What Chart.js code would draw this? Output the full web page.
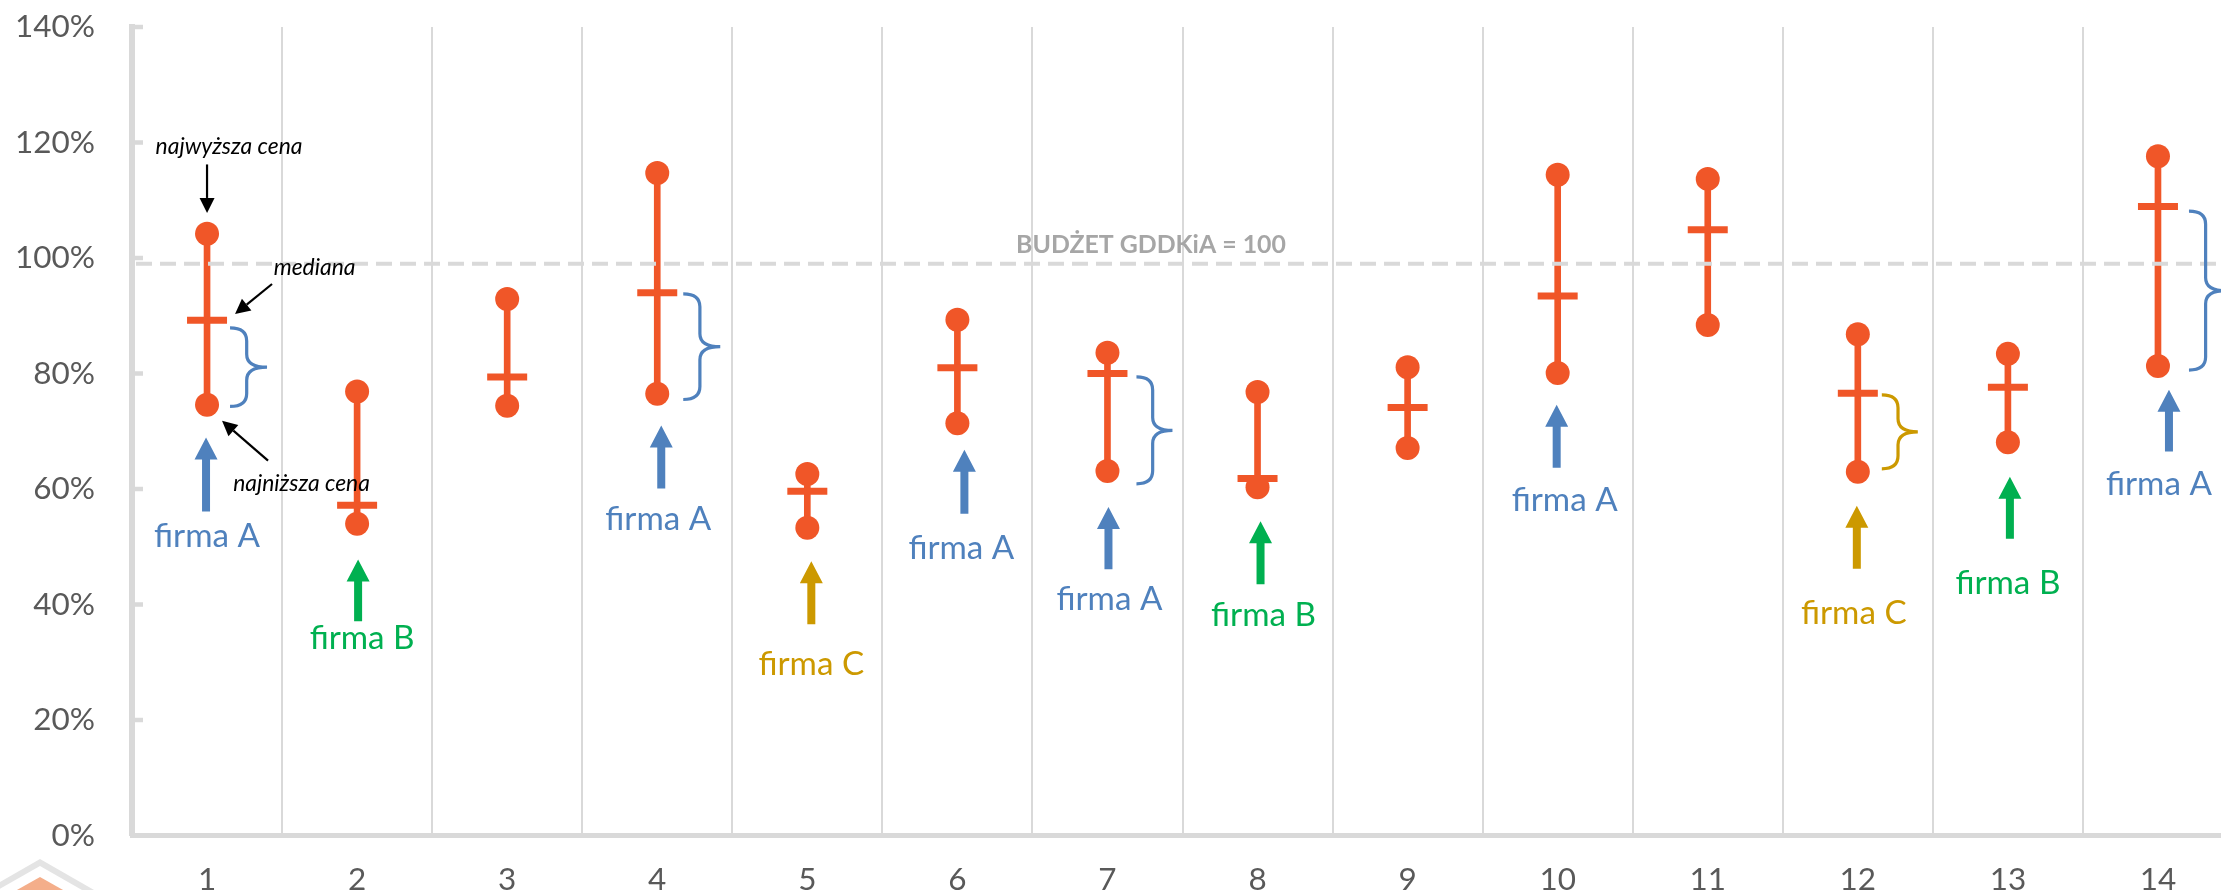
<!DOCTYPE html>
<html><head><meta charset="utf-8">
<script src="https://cdn.jsdelivr.net/npm/chart.js@4.4.1/dist/chart.umd.min.js"></script>
<style>
html,body{margin:0;padding:0;background:#fff;overflow:hidden;width:2221px;height:890px;}
#wrap{position:absolute;left:0;top:0;width:2260px;height:900px;}
</style></head><body>
<div id="wrap"><canvas id="c" width="2260" height="900"></canvas></div>
<script>
// ---------- data ----------
const categories = ['1','2','3','4','5','6','7','8','9','10','11','12','13','14'];
const highPrice   = [104.2, 76.9, 92.9, 114.7, 62.6, 89.3, 83.6, 76.8, 81.1, 114.4, 113.7, 86.8, 83.4, 117.6];
const medianPrice = [ 89.2, 57.2, 79.4,  94.0, 59.6, 81.0, 80.0, 61.8, 74.1,  93.4, 104.9, 76.6, 77.6, 108.9];
const lowPrice    = [ 74.6, 54.0, 74.4,  76.5, 53.3, 71.4, 63.1, 60.3, 67.1,  80.1,  88.4, 63.0, 68.1,  81.3];
const yTicks = [0, 20, 40, 60, 80, 100, 120, 140];
const budgetValue = 99;
const budgetLabel = 'BUDŻET GDDKiA = 100';
const winners = ['firma A','firma B',null,'firma A','firma C','firma A','firma A','firma B',null,'firma A',null,'firma C','firma B','firma A'];
const bracedCategories = [0, 3, 6, 11, 13];
const noteTexts = ['najwyższa cena', 'mediana', 'najniższa cena'];

// ---------- annotation layout (value units on y, px offsets on x) ----------
const arrowLayout = {
  0:{top:68.9,bot:56.1,lab:51.8,dx:-1,ldx:0},
  1:{top:47.8,bot:37.1,lab:34.1,dx:1,ldx:5},
  3:{top:71.0,bot:60.1,lab:54.7,dx:4,ldx:1},
  4:{top:47.5,bot:36.6,lab:29.6,dx:4,ldx:4},
  5:{top:66.8,bot:55.7,lab:49.7,dx:7,ldx:4},
  6:{top:56.9,bot:46.1,lab:40.9,dx:1,ldx:2},
  7:{top:54.4,bot:43.5,lab:38.1,dx:3,ldx:6},
  9:{top:74.6,bot:63.7,lab:58.0,dx:-1,ldx:7},
  11:{top:57.1,bot:46.2,lab:38.5,dx:-1,ldx:-4},
  12:{top:62.1,bot:51.4,lab:43.7,dx:2,ldx:0},
  13:{top:77.2,bot:66.5,lab:60.8,dx:11,ldx:1}
};
const braceLayout = {
  0:{top:87.9,bot:74.3,x0:23,x1:60},
  3:{top:93.8,bot:75.5,x0:26,x1:63},
  6:{top:79.4,bot:60.9,x0:29,x1:65},
  11:{top:76.3,bot:63.5,x0:24,x1:60},
  13:{top:108.1,bot:80.6,x0:31,x1:68}
};
const noteLayout = [
  {dx:22, y:119.3, ax:[0,116.2], at:[0,107.8]},
  {dx:107.5, y:98.3, ax:[65,95.5], at:[28,90.3]},
  {dx:94.5, y:61.0, ax:[61,64.9], at:[15,71.8]}
];

const ORANGE = '#F05628';
const firmColor = {'firma A':'#4F81BD','firma B':'#00B050','firma C':'#CC9900'};
const GRID = '#D9D9D9';
const FONT = 'Lato, "Open Sans", sans-serif';

const mctx = document.createElement('canvas').getContext('2d');
function fitSize(text, width, style){
  mctx.font = style + ' 100px ' + FONT;
  return 100 * width / mctx.measureText(text).width;
}
const tickSize = fitSize('140%', 80, 'normal');
const firmSize = fitSize('firma A', 106, 'normal');
const noteSize = fitSize('najwyższa cena', 147, 'italic');
const budgetSize = fitSize(budgetLabel, 270, 'bold');

function blockArrow(ctx, cx, yT, yB, color){
  const hh = 22, hw = 11.5, sw = 4;
  ctx.fillStyle = color;
  ctx.beginPath();
  ctx.moveTo(cx, yT);
  ctx.lineTo(cx + hw, yT + hh);
  ctx.lineTo(cx + sw, yT + hh);
  ctx.lineTo(cx + sw, yB);
  ctx.lineTo(cx - sw, yB);
  ctx.lineTo(cx - sw, yT + hh);
  ctx.lineTo(cx - hw, yT + hh);
  ctx.closePath();
  ctx.fill();
}
function thinArrow(ctx, x1, y1, x2, y2){
  const ang = Math.atan2(y2 - y1, x2 - x1), hl = 15, hw = 7.5;
  const bx = x2 - Math.cos(ang) * hl, by = y2 - Math.sin(ang) * hl;
  ctx.strokeStyle = '#000'; ctx.fillStyle = '#000'; ctx.lineWidth = 2.2;
  ctx.beginPath(); ctx.moveTo(x1, y1); ctx.lineTo(bx, by); ctx.stroke();
  ctx.beginPath();
  ctx.moveTo(x2, y2);
  ctx.lineTo(bx + Math.sin(ang) * hw, by - Math.cos(ang) * hw);
  ctx.lineTo(bx - Math.sin(ang) * hw, by + Math.cos(ang) * hw);
  ctx.closePath(); ctx.fill();
}
function brace(ctx, x0, x2, yT, yB, color){
  const xs = x0 + (x2 - x0) * 0.45, yM = (yT + yB) / 2;
  const r = Math.min(13, (yB - yT) / 4);
  ctx.strokeStyle = color; ctx.lineWidth = 3.2;
  ctx.beginPath();
  ctx.moveTo(x0, yT);
  ctx.quadraticCurveTo(xs, yT, xs, yT + r);
  ctx.lineTo(xs, yM - r);
  ctx.quadraticCurveTo(xs, yM, x2, yM);
  ctx.quadraticCurveTo(xs, yM, xs, yM + r);
  ctx.lineTo(xs, yB - r);
  ctx.quadraticCurveTo(xs, yB, x0, yB);
  ctx.stroke();
}

const overlay = {
  id: 'overlay',
  beforeDatasetsDraw(chart){
    const {ctx, chartArea: a, scales: {y}} = chart;
    ctx.save();
    ctx.strokeStyle = GRID; ctx.lineWidth = 4.5;
    yTicks.forEach(v => {
      const py = y.getPixelForValue(v);
      ctx.beginPath(); ctx.moveTo(a.left, py); ctx.lineTo(a.left + 11, py); ctx.stroke();
    });
    ctx.restore();
  },
  afterDatasetsDraw(chart){
    const {ctx, chartArea: a, scales: {x, y}} = chart;
    ctx.save();
    // budget dashed line
    const by = y.getPixelForValue(budgetValue);
    ctx.strokeStyle = GRID; ctx.lineWidth = 4; ctx.setLineDash([16, 8]);
    ctx.beginPath(); ctx.moveTo(a.left + 4, by); ctx.lineTo(chart.width, by); ctx.stroke();
    ctx.setLineDash([]);
    ctx.fillStyle = '#A6A6A6';
    ctx.font = 'bold ' + budgetSize + 'px ' + FONT;
    ctx.textAlign = 'center'; ctx.textBaseline = 'middle';
    ctx.fillText(budgetLabel, x.getPixelForValue(6.29), by - 19);

    // braces
    bracedCategories.forEach(i => {
      const b = braceLayout[i];
      const cx = x.getPixelForValue(i);
      brace(ctx, cx + b.x0, cx + b.x1, y.getPixelForValue(b.top), y.getPixelForValue(b.bot), firmColor[winners[i]]);
    });

    // winner arrows and labels
    ctx.font = firmSize + 'px ' + FONT;
    winners.forEach((w, i) => {
      if (!w) return;
      const L = arrowLayout[i];
      const cx = x.getPixelForValue(i);
      blockArrow(ctx, cx + L.dx, y.getPixelForValue(L.top), y.getPixelForValue(L.bot), firmColor[w]);
      ctx.fillStyle = firmColor[w];
      ctx.fillText(w, cx + L.ldx, y.getPixelForValue(L.lab));
    });

    // notes on first category
    const c0 = x.getPixelForValue(0);
    ctx.font = 'italic ' + noteSize + 'px ' + FONT;
    noteTexts.forEach((t, k) => {
      const n = noteLayout[k];
      ctx.fillStyle = '#000';
      ctx.fillText(t, c0 + n.dx, y.getPixelForValue(n.y));
      thinArrow(ctx, c0 + n.ax[0], y.getPixelForValue(n.ax[1]), c0 + n.at[0], y.getPixelForValue(n.at[1]));
    });

    // cropped logo fragment, bottom-left
    ctx.fillStyle = '#E4E4E4';
    ctx.beginPath(); ctx.moveTo(40, 859); ctx.lineTo(115, 902); ctx.lineTo(40, 945); ctx.lineTo(-35, 902); ctx.closePath(); ctx.fill();
    ctx.fillStyle = '#FFFFFF';
    ctx.beginPath(); ctx.moveTo(40, 866); ctx.lineTo(103, 902); ctx.lineTo(40, 938); ctx.lineTo(-23, 902); ctx.closePath(); ctx.fill();
    ctx.fillStyle = '#F4AE8A';
    ctx.beginPath(); ctx.moveTo(40, 877); ctx.lineTo(95, 908); ctx.lineTo(40, 940); ctx.lineTo(-15, 908); ctx.closePath(); ctx.fill();
    ctx.restore();
  }
};

new Chart(document.getElementById('c'), {
  type: 'bar',
  data: {
    labels: categories,
    datasets: [
      {type:'line', label:'mediana', data: medianPrice, showLine:false, pointStyle:'line',
       pointRadius:20, pointHoverRadius:20, pointBorderWidth:7, pointBorderColor:ORANGE,
       pointBackgroundColor:ORANGE, borderColor:ORANGE, order:0},
      {type:'line', label:'najwyższa cena', data: highPrice, showLine:false, pointStyle:'circle',
       pointRadius:12, pointHoverRadius:12, pointBorderWidth:0, pointBackgroundColor:ORANGE, borderColor:ORANGE, order:1},
      {type:'line', label:'najniższa cena', data: lowPrice, showLine:false, pointStyle:'circle',
       pointRadius:12, pointHoverRadius:12, pointBorderWidth:0, pointBackgroundColor:ORANGE, borderColor:ORANGE, order:1},
      {type:'bar', label:'zakres', data: lowPrice.map((l, i) => [l, highPrice[i]]),
       backgroundColor:ORANGE, barThickness:6, order:2}
    ]
  },
  options: {
    responsive:false, devicePixelRatio:1, animation:false, events:[],
    layout:{padding:{top:25.5, right:8, left:0, bottom:0}},
    plugins:{legend:{display:false}, tooltip:{enabled:false}},
    scales:{
      x:{
        offset:true,
        grid:{offset:true, color:GRID, lineWidth:2, drawTicks:false},
        border:{color:GRID, width:5},
        ticks:{color:'#595959', font:{family:FONT, size:tickSize}, padding:25, maxRotation:0},
        afterFit(s){ s.height = 64.5; s.paddingLeft = 0; s.paddingRight = 0; s.paddingTop = 0; s.paddingBottom = 0; }
      },
      y:{
        min:0, max:140,
        ticks:{stepSize:20, callback:v => v + '%', color:'#595959', font:{family:FONT, size:tickSize}, padding:37},
        grid:{display:false, drawTicks:false},
        border:{color:GRID, width:6},
        afterFit(s){ s.width = 132; s.paddingLeft = 0; s.paddingRight = 0; s.paddingTop = 0; s.paddingBottom = 0; }
      }
    }
  },
  plugins:[overlay]
});
</script>
</body></html>
